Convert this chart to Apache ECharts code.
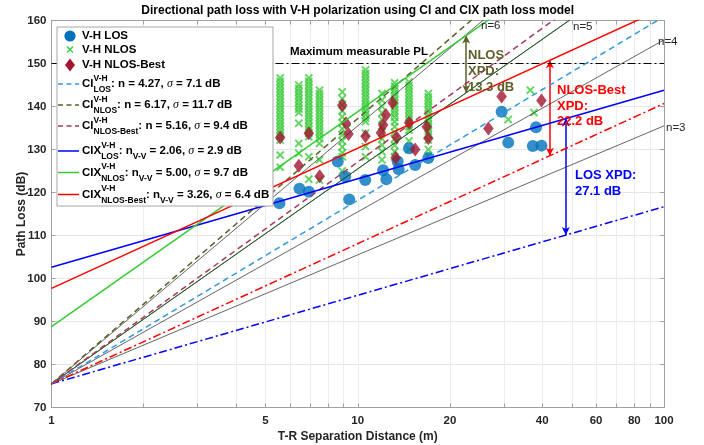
<!DOCTYPE html>
<html><head><meta charset="utf-8">
<script src="https://cdn.jsdelivr.net/npm/echarts@6/dist/echarts.min.js"></script>
<style>html,body{margin:0;padding:0;background:#fff}#c{width:704px;height:445px}</style>
</head><body><div id="c"></div>
<script>
// ---------------- data ----------------
const FSPL_1M = 75.5;            // free space PL at 1 m (dB)
const maxMeasurablePL = 150;

const losD  = [5.55, 6.45, 6.92, 8.6, 9.1, 9.38, 10.58, 12.1, 12.4, 13.5, 13.6, 14.7, 15.4, 17.0, 29.5, 31.0, 37.3, 38.2, 39.8];
const losPL = [117.5, 120.9, 120.2, 127.2, 123.7, 118.4, 122.9, 125.2, 123.1, 127.2, 125.4, 130.3, 126.4, 128.0, 138.8, 131.6, 130.8, 135.2, 130.9];

const bestD  = [5.58, 6.42, 6.92, 7.51, 8.9, 9.15, 9.33, 10.6, 11.9, 12.1, 12.36, 13.0, 13.3, 13.4, 14.72, 15.4, 16.8, 17.0, 26.7, 29.5, 39.8];
const bestPL = [132.8, 126.2, 133.8, 123.8, 140.3, 136.1, 133.6, 133.1, 133.9, 135.7, 138.0, 140.9, 128.1, 132.8, 136.2, 130.0, 135.3, 132.6, 134.9, 142.3, 141.4];

const nlosColD = [5.58, 6.42, 6.92, 7.5, 8.9, 10.6, 12.0, 13.2, 14.7, 17.0, 31.0, 36.6, 37.6];
const nlosColPL = [
  [146.6, 145.8, 145, 144.2, 143.4, 142.6, 141.8, 141, 140.2, 139.4, 138.6, 137.8, 137, 136.2, 135.4, 134.6, 133.8, 133, 132.2, 128.7, 125.9],
  [145, 144.2, 143.4, 142.6, 141.8, 141, 140.2, 139.4, 138.6, 136.1, 131.4, 129.1],
  [146.6, 145.8, 145, 144.2, 143.4, 142.6, 141.8, 141, 140.2, 139.4, 138.6, 137.8, 137, 136.2, 135.4, 134.6, 133.8, 133, 128.3, 123.1],
  [143.8, 143, 142.2, 141.4, 140.6, 139.8, 139, 138.2, 137.4, 136.6, 135.8, 135, 134.2, 133.4, 132.6, 131.4, 127.6, 122.9],
  [143.4, 141.8, 140.4, 139, 137.6, 136.2, 134.8, 133.4, 132, 130.6, 129.2, 128.3, 125],
  [148.5, 147.7, 146.9, 146.1, 145.3, 144.5, 143.7, 142.9, 142.1, 141.3, 140.5, 139.7, 138.9, 138.1, 137.3, 136.5, 133.8, 130.7, 128.3],
  [143, 141.5, 140, 138.5, 137, 135.5, 134, 132.5, 131, 129.5, 127.6],
  [145.5, 144.7, 143.9, 143.1, 142.3, 141.5, 140.7, 139.9, 139.1, 138.3, 137.5, 136.5, 135.3, 134, 132.5, 131, 129.5, 128.3],
  [145.7, 144.9, 144.1, 143.3, 142.5, 141.7, 140.9, 140.1, 139.3, 138.5, 137.7, 136.9, 136.1, 135.3, 134.5, 132, 130],
  [143, 142.2, 141.4, 140.6, 139.8, 139, 138.2, 137.4, 136.6, 135.8, 135, 134.2, 133.4, 132.2, 130, 128.5],
  [137.0],
  [143.8],
  [138.6]
];

// model parameters (LOS, NLOS, NLOS-Best)
const groupNames = ['LOS', 'NLOS', 'NLOS-Best'];
const ciN      = [4.27, 6.17, 5.16];
const ciSigma  = [7.1, 11.7, 9.4];
const cixN     = [2.06, 5.00, 3.26];
const cixXPD   = [27.1, 13.3, 22.2];
const cixSigma = [2.9, 9.7, 6.4];
const refN     = [3, 4, 5, 6];
const xpdArrowD = [47.8, 22.6, 42.4];   // distance where each XPD arrow is drawn

const distRange   = [1, 100];
const xTickValues = [1,2,3,4,5,6,7,8,9,10,20,30,40,50,60,70,80,90,100];
const xLabelValues = [1,5,10,20,40,60,80,100];
const yMin = 70, yMax = 160, yStep = 10;

// ---------------- styles ----------------
const F = '"Liberation Sans", Arial, Helvetica, sans-serif';
const C_LOS_PT = '#0072BD', C_NLOS_PT = '#3bcc3b', C_BEST_PT = '#A2142F';
const ciColors  = ['#3399dd', '#5f5f2a', '#a63a5c'];
const cixColors = ['#0000ff', '#33cc33', '#ff0000'];
const vvColors  = ['#0000ff', '#1f5f1f', '#ff0000'];
const DASH = [6, 4], DASHDOT = [8, 3, 2, 3];
const X_PATH = 'path://M0,1.6L1.6,0L5,3.4L8.4,0L10,1.6L6.6,5L10,8.4L8.4,10L5,6.6L1.6,10L0,8.4L3.4,5Z';

const pl = (n, off, d) => FSPL_1M + off + 10 * n * Math.log10(d);
const lineData = (n, off) => distRange.map(d => [d, pl(n, off, d)]);

const series = [];
series.push({ name:'V-H LOS', type:'scatter', data: losD.map((d,i)=>[d, losPL[i]]),
  symbol:'circle', symbolSize:12, itemStyle:{color:C_LOS_PT}, z:3 });
const nlosData = [];
nlosColD.forEach((d,i)=>nlosColPL[i].forEach(v=>nlosData.push([d,v])));
series.push({ name:'V-H NLOS', type:'scatter', data: nlosData,
  symbol:X_PATH, symbolSize:8.5, itemStyle:{color:C_NLOS_PT}, z:2 });
series.push({ name:'V-H NLOS-Best', type:'scatter', data: bestD.map((d,i)=>[d, bestPL[i]]),
  symbol:'diamond', symbolSize:[10.5,14], itemStyle:{color:C_BEST_PT}, z:4 });

// reference n lines
refN.forEach(n => series.push({ type:'line', data: lineData(n, 0), symbol:'none', silent:true,
  lineStyle:{color:'#222', width:0.7}, z:5 }));
// V-V reference lines (no XPD)
[0,1,2].forEach(i => series.push({ type:'line', data: lineData(cixN[i], 0), symbol:'none', silent:true,
  lineStyle:{color:vvColors[i], width: i===1 ? 1 : 1.5, type: i===1 ? 'solid' : DASHDOT}, z:6 }));
// max measurable PL
series.push({ type:'line', data: distRange.map(d=>[d, maxMeasurablePL]), symbol:'none', silent:true,
  lineStyle:{color:'#000', width:1.2, type:DASHDOT}, z:6 });
// CI lines
[0,1,2].forEach(i => series.push({ type:'line', data: lineData(ciN[i], 0), symbol:'none', silent:true,
  lineStyle:{color:ciColors[i], width:1.5, type:DASH}, z:7 }));
// CIX lines
[0,1,2].forEach(i => series.push({ type:'line', data: lineData(cixN[i], cixXPD[i]), symbol:'none', silent:true,
  lineStyle:{color:cixColors[i], width:1.5}, z:8 }));
// XPD arrows
const arrowColors = ['#0000ff', '#5f5f2a', '#ff0000'];
[0,1,2].forEach(i => {
  const d = xpdArrowD[i];
  series.push({ type:'line', data:[], silent:true, z:9,
    markLine:{ silent:true, animation:false, symbol:['arrow','arrow'], symbolSize:[6,8], label:{show:false},
      lineStyle:{color:arrowColors[i], width:1.5, type:'solid'},
      data:[[{coord:[d, pl(cixN[i], cixXPD[i], d)]}, {coord:[d, pl(cixN[i], 0, d)]}]] } });
});

// ---------------- legend & annotations (graphic) ----------------
const cv = document.createElement('canvas').getContext('2d');
const tw = (t, font) => { cv.font = font; return cv.measureText(t).width; };
const FB = 'bold 11.5px ' + F, FS = 'bold 8.5px ' + F, FSig = 'italic 12px "Liberation Serif", serif';
const g = [];
const txt = (x, y, t, font, fill, align) => g.push({ type:'text', x, y, z:101,
  style:{ text:t, font, fill: fill || '#000', align: align || 'left', verticalAlign:'middle' } });

g.push({ type:'rect', shape:{x:57, y:27, width:216, height:179}, z:100,
  style:{ fill:'#fff', stroke:'#a6a6a6', lineWidth:1 } });
// markers
g.push({ type:'circle', shape:{cx:70, cy:36, r:5.6}, z:101, style:{fill:C_LOS_PT} });
g.push({ type:'line', shape:{x1:67, y1:46.5, x2:73, y2:52.5}, z:101, style:{stroke:C_NLOS_PT, lineWidth:1.4} });
g.push({ type:'line', shape:{x1:73, y1:46.5, x2:67, y2:52.5}, z:101, style:{stroke:C_NLOS_PT, lineWidth:1.4} });
g.push({ type:'polygon', shape:{points:[[70,58.5],[75,65],[70,71.5],[65,65]]}, z:101, style:{fill:C_BEST_PT} });
txt(82, 36, 'V-H LOS', FB); txt(82, 50, 'V-H NLOS', FB); txt(82, 65, 'V-H NLOS-Best', FB);

const itemY = [84, 105, 126, 151, 172.5, 194.5];
for (let k = 0; k < 6; k++) {
  const i = k % 3, isCix = k >= 3, y = itemY[k];
  const color = isCix ? cixColors[i] : ciColors[i];
  g.push({ type:'line', shape:{x1:58, y1:y, x2:79, y2:y}, z:101,
    style:{ stroke:color, lineWidth:1.5, lineDash: isCix ? null : [5,3.5] } });
  let x = 82;
  const base = isCix ? 'CIX' : 'CI';
  txt(x, y, base, FB); x += tw(base, FB);
  txt(x, y - 5.6, 'V-H', FS); txt(x, y + 5.8, groupNames[i], FS);
  x += Math.max(tw('V-H', FS), tw(groupNames[i], FS));
  const parts = isCix
    ? [[': n', FB, 0], ['V-V', FS, 5.8], [' = ' + cixN[i].toFixed(2) + ', ', FB, 0], ['σ', FSig, 0], [' = ' + cixSigma[i].toFixed(1) + ' dB', FB, 0]]
    : [[': n = ' + ciN[i].toFixed(2) + ', ', FB, 0], ['σ', FSig, 0], [' = ' + ciSigma[i].toFixed(1) + ' dB', FB, 0]];
  parts.forEach(p => { txt(x, y + p[2], p[0], p[1]); x += tw(p[0], p[1]); });
}

// title & annotations
txt(357.7, 11, 'Directional path loss with V-H polarization using CI and CIX path loss model', 'bold 12px ' + F, '#000', 'center');
txt(290, 52, 'Maximum measurable PL', 'bold 11.5px ' + F);
const AF = 'bold 13px ' + F;
txt(468, 55, 'NLOS', AF, '#5f5f2a'); txt(468, 71.5, 'XPD:', AF, '#5f5f2a'); txt(468, 87, '13.3 dB', AF, '#5f5f2a');
txt(557, 90, 'NLOS-Best', AF, '#ff0000'); txt(557, 106, 'XPD:', AF, '#ff0000'); txt(557, 121.5, '22.2 dB', AF, '#ff0000');
txt(575, 175, 'LOS XPD:', AF, '#0000ff'); txt(575, 191, '27.1 dB', AF, '#0000ff');
const NF = '11.5px ' + F;
txt(481, 26, 'n=6', NF, '#262626'); txt(573, 27, 'n=5', NF, '#262626');
txt(658, 42, 'n=4', NF, '#262626'); txt(666, 128, 'n=3', NF, '#262626');

// ---------------- chart ----------------
const axisGrey = '#a0a0a0';
const lblStyle = { color:'#262626', fontWeight:'bold', fontSize:11.5, fontFamily:F };
const chart = echarts.init(document.getElementById('c'), null, { renderer:'canvas' });
chart.setOption({
  animation:false,
  backgroundColor:'#fff',
  grid:{ left:51.5, right:40, top:20.5, bottom:37.5, containLabel:false, outerBoundsMode:'none' },
  xAxis:[{
    type:'log', logBase:10, min:distRange[0], max:distRange[1],
    axisLine:{ show:true, lineStyle:{color:axisGrey} },
    axisTick:{ show:true, inside:true, length:4, lineStyle:{color:axisGrey}, customValues:xTickValues },
    axisLabel:{ ...lblStyle, margin:7, customValues:xLabelValues },
    splitLine:{ show:true, lineStyle:{color:'#ececec'} },
    name:'T-R Separation Distance (m)', nameLocation:'middle', nameGap:23, nameMoveOverlap:false,
    nameTextStyle:{ color:'#262626', fontWeight:'bold', fontSize:12, fontFamily:F }
  },{
    type:'log', logBase:10, min:distRange[0], max:distRange[1], position:'top',
    axisLine:{ show:true, lineStyle:{color:axisGrey} },
    axisTick:{ show:true, inside:true, length:4, lineStyle:{color:axisGrey}, customValues:xTickValues },
    axisLabel:{ show:false }, splitLine:{ show:false }
  }],
  yAxis:[{
    type:'value', min:yMin, max:yMax, interval:yStep,
    axisLine:{ show:true, lineStyle:{color:axisGrey} },
    axisTick:{ show:true, inside:true, length:4, lineStyle:{color:axisGrey} },
    axisLabel:{ ...lblStyle, margin:5 },
    splitLine:{ show:true, lineStyle:{color:'#e6e6e6'} },
    name:'Path Loss (dB)', nameLocation:'middle', nameGap:24, nameRotate:90, nameMoveOverlap:false,
    nameTextStyle:{ color:'#262626', fontWeight:'bold', fontSize:12, fontFamily:F }
  },{
    type:'value', min:yMin, max:yMax, interval:yStep, position:'right',
    axisLine:{ show:true, lineStyle:{color:axisGrey} },
    axisTick:{ show:true, inside:true, length:4, lineStyle:{color:axisGrey} },
    axisLabel:{ show:false }, splitLine:{ show:false }
  }],
  series: series,
  graphic: g
});
</script></body></html>
